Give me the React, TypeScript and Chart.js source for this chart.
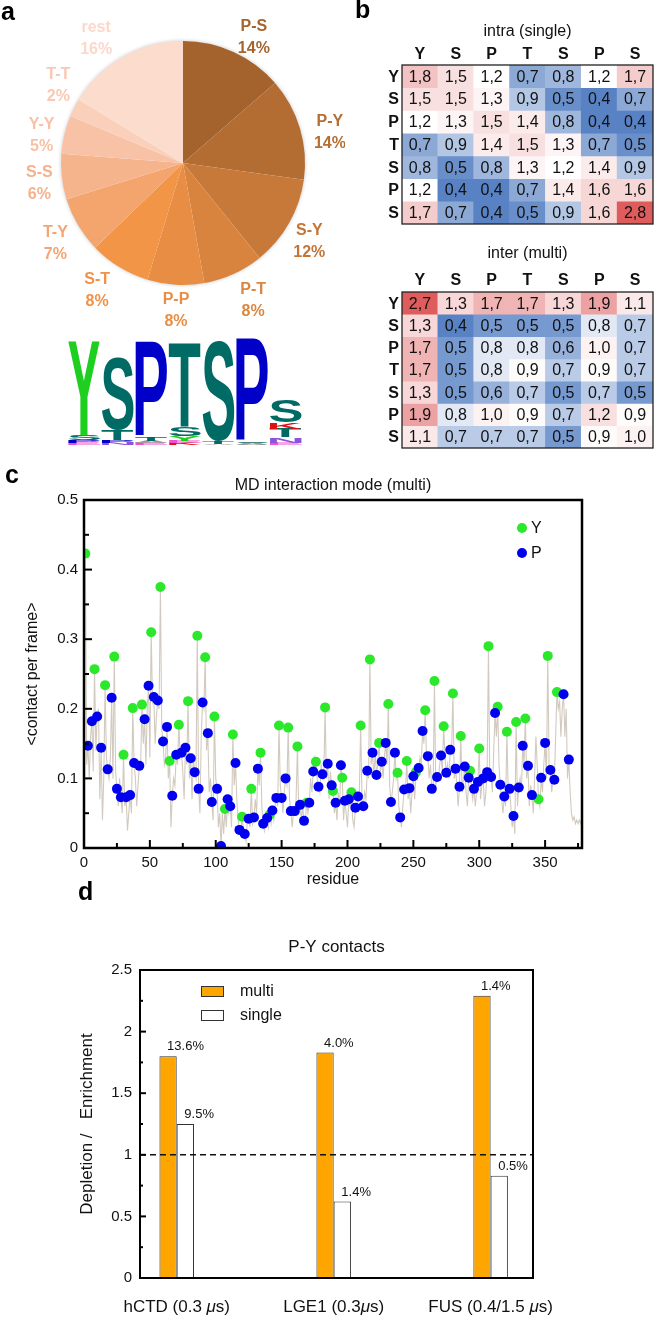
import React, { useEffect, useRef } from 'react';
import { Chart, registerables } from 'chart.js';
Chart.register(...registerables);

const FONT = "'Liberation Sans', Arial, Helvetica, sans-serif";
const F = (size: number, bold = false, italic = false) => `${italic ? 'italic ' : ''}${bold ? 'bold ' : ''}${size}px ${FONT}`;

// ---------- Panel a : pie ----------
const pieLabels = ['P-S', 'P-Y', 'S-Y', 'P-T', 'P-P', 'S-T', 'T-Y', 'S-S', 'Y-Y', 'T-T', 'rest'];
const pieValues = [13.6, 13.6, 12.0, 8.0, 7.5, 8.1, 7.4, 6.0, 5.1, 2.4, 16.3];
const piePercentLabels = ['14%', '14%', '12%', '8%', '8%', '8%', '7%', '6%', '5%', '2%', '16%'];
const pieColors = ['#a4622c', '#b36c32', '#c77939', '#d8843f', '#e78d44', '#f29547', '#f4a56e', '#f6b48d', '#f8c2a6', '#fad0bb', '#fcdccd'];
const pieTextColors = ['#a6642e', '#b56f33', '#c47536', '#d98741', '#e88f46', '#f0924a', '#f3a575', '#f5b18e', '#f8c0a5', '#fac8b2', '#fcd8ca'];
// label placement layout (degrees added to slice mid-angle, px beyond the rim)
const pieLabelAngleNudge = [5, 5, 2.5, -2.6, -0.7, 2.4, -1.7, -1.5, -2.5, 5, -5.5];
const pieLabelGap = [22, 28, 27, 32, 26, 32, 29, 23, 22, 25, 30];

// sequence logo: columns bottom -> top, [letter, bits]
const logoColumns: [string, number][][] = [
  [['E', 0.08], ['P', 0.12], ['S', 0.2], ['Y', 3.83]],
  [['N', 0.08], ['P', 0.12], ['T', 0.4], ['S', 3.0]],
  [['E', 0.08], ['A', 0.08], ['T', 0.18], ['P', 3.9]],
  [['K', 0.08], ['E', 0.08], ['Y', 0.22], ['S', 0.35], ['T', 3.45]],
  [['A', 0.06], ['T', 0.08], ['S', 4.1]],
  [['A', 0.08], ['S', 0.06], ['P', 4.2]],
  [['E', 0.1], ['N', 0.22], ['T', 0.35], ['K', 0.25], ['S', 0.9]],
];
const logoColor: Record<string, string> = { Y: '#1fcf1f', S: '#006b64', T: '#006b64', P: '#0000c8', K: '#dd1111', N: '#8a55d8', E: '#f050d0', A: '#9a9a9a' };

// ---------- Panel b : heatmaps ----------
const heatHeaders = ['Y', 'S', 'P', 'T', 'S', 'P', 'S'];
const intraMatrix = [
  [1.8, 1.5, 1.2, 0.7, 0.8, 1.2, 1.7],
  [1.5, 1.5, 1.3, 0.9, 0.5, 0.4, 0.7],
  [1.2, 1.3, 1.5, 1.4, 0.8, 0.4, 0.4],
  [0.7, 0.9, 1.4, 1.5, 1.3, 0.7, 0.5],
  [0.8, 0.5, 0.8, 1.3, 1.2, 1.4, 0.9],
  [1.2, 0.4, 0.4, 0.7, 1.4, 1.6, 1.6],
  [1.7, 0.7, 0.4, 0.5, 0.9, 1.6, 2.8],
];
const interMatrix = [
  [2.7, 1.3, 1.7, 1.7, 1.3, 1.9, 1.1],
  [1.3, 0.4, 0.5, 0.5, 0.5, 0.8, 0.7],
  [1.7, 0.5, 0.8, 0.8, 0.6, 1.0, 0.7],
  [1.7, 0.5, 0.8, 0.9, 0.7, 0.9, 0.7],
  [1.3, 0.5, 0.6, 0.7, 0.5, 0.7, 0.5],
  [1.9, 0.8, 1.0, 0.9, 0.7, 1.2, 0.9],
  [1.1, 0.7, 0.7, 0.7, 0.5, 0.9, 1.0],
];

// ---------- Panel c : contacts per residue ----------
const yPoints: [number, number][] = [
  [1, 0.423], [8, 0.257], [16, 0.234], [23, 0.275], [30, 0.134], [37, 0.201], [44, 0.206], [51, 0.31], [58, 0.375], [65, 0.125],
  [72, 0.177], [79, 0.211], [86, 0.305], [92, 0.274], [99, 0.189], [107, 0.056], [113, 0.163], [120, 0.045], [127, 0.085], [134, 0.137],
  [141, 0.048], [148, 0.176], [155, 0.173], [162, 0.146], [169, 0.065], [176, 0.124], [183, 0.202], [189, 0.082], [196, 0.101], [203, 0.08],
  [210, 0.176], [217, 0.271], [224, 0.151], [231, 0.207], [238, 0.108], [245, 0.125], [252, 0.109], [259, 0.198], [266, 0.24], [273, 0.175],
  [280, 0.222], [286, 0.161], [293, 0.111], [300, 0.143], [307, 0.29], [314, 0.203], [321, 0.167], [328, 0.181], [335, 0.186], [345, 0.07],
  [352, 0.276], [359, 0.224],
];
const pPoints: [number, number][] = [
  [3, 0.147], [6, 0.182], [10, 0.189], [13, 0.144], [18, 0.113], [21, 0.216], [25, 0.085], [28, 0.073], [32, 0.073], [35, 0.076],
  [38, 0.122], [42, 0.118], [46, 0.185], [49, 0.233], [53, 0.217], [56, 0.212], [60, 0.153], [63, 0.174], [67, 0.075], [70, 0.134],
  [74, 0.137], [77, 0.144], [81, 0.129], [84, 0.109], [87, 0.085], [90, 0.209], [94, 0.165], [97, 0.066], [101, 0.085], [104, 0.003],
  [109, 0.07], [111, 0.06], [115, 0.122], [118, 0.026], [122, 0.02], [125, 0.042], [129, 0.044], [132, 0.114], [136, 0.035], [139, 0.043],
  [143, 0.054], [146, 0.072], [150, 0.072], [153, 0.1], [157, 0.053], [160, 0.053], [164, 0.062], [167, 0.039], [171, 0.065], [174, 0.11],
  [178, 0.088], [181, 0.106], [185, 0.121], [188, 0.09], [191, 0.065], [195, 0.119], [198, 0.068], [201, 0.07], [206, 0.058], [208, 0.074],
  [212, 0.06], [215, 0.111], [219, 0.137], [222, 0.105], [226, 0.124], [229, 0.151], [233, 0.066], [236, 0.137], [240, 0.044], [243, 0.084],
  [247, 0.086], [250, 0.103], [254, 0.115], [257, 0.168], [261, 0.132], [264, 0.085], [268, 0.102], [271, 0.133], [275, 0.108], [278, 0.141],
  [282, 0.114], [285, 0.088], [289, 0.117], [292, 0.101], [296, 0.085], [299, 0.095], [303, 0.1], [306, 0.109], [309, 0.102], [312, 0.194],
  [316, 0.091], [319, 0.074], [323, 0.085], [326, 0.046], [330, 0.087], [333, 0.147], [337, 0.118], [340, 0.076], [347, 0.101], [350, 0.151],
  [354, 0.112], [357, 0.098], [364, 0.221], [368, 0.127],
];
const otherPoints: [number, number][] = [
  [2, 0.12], [4, 0.1], [5, 0.16], [7, 0.11], [9, 0.14], [11, 0.2], [12, 0.07], [14, 0.04], [15, 0.1], [17, 0.13], [19, 0.1], [20, 0.13],
  [22, 0.1], [24, 0.11], [26, 0.06], [27, 0.1], [29, 0.05], [31, 0.06], [33, 0.025], [34, 0.05], [36, 0.05], [39, 0.1], [40, 0.06], [41, 0.09],
  [43, 0.12], [45, 0.15], [47, 0.12], [48, 0.2], [50, 0.13], [52, 0.21], [54, 0.15], [55, 0.19], [57, 0.2], [59, 0.17], [61, 0.12], [62, 0.13],
  [64, 0.1], [66, 0.03], [68, 0.1], [69, 0.09], [71, 0.12], [73, 0.13], [75, 0.11], [76, 0.07], [78, 0.12], [80, 0.1], [82, 0.07], [83, 0.13],
  [85, 0.1], [88, 0.05], [89, 0.16], [91, 0.2], [93, 0.14], [95, 0.08], [96, 0.1], [98, 0.04], [100, 0.1], [102, 0.03], [103, 0.05], [105, 0.05],
  [106, 0.02], [108, 0.03], [110, 0.05], [112, 0.03], [114, 0.09], [116, 0.07], [117, 0.04], [119, 0.02], [121, 0.025], [123, 0.01], [124, 0.04],
  [126, 0.03], [128, 0.035], [130, 0.07], [131, 0.05], [133, 0.09], [135, 0.06], [137, 0.025], [138, 0.04], [140, 0.03], [142, 0.035], [144, 0.04],
  [145, 0.06], [147, 0.06], [149, 0.09], [151, 0.05], [152, 0.08], [154, 0.09], [156, 0.07], [158, 0.03], [159, 0.05], [161, 0.07], [163, 0.05],
  [165, 0.04], [166, 0.06], [168, 0.04], [170, 0.05], [172, 0.1], [173, 0.08], [175, 0.13], [177, 0.1], [179, 0.08], [180, 0.12], [182, 0.1],
  [184, 0.1], [186, 0.07], [187, 0.11], [190, 0.05], [192, 0.04], [193, 0.08], [194, 0.06], [197, 0.04], [199, 0.05], [200, 0.03], [202, 0.06],
  [204, 0.04], [205, 0.03], [207, 0.06], [209, 0.08], [211, 0.07], [213, 0.08], [214, 0.07], [216, 0.1], [218, 0.12], [220, 0.1], [221, 0.14],
  [223, 0.12], [225, 0.11], [227, 0.1], [228, 0.13], [230, 0.12], [232, 0.09], [234, 0.08], [235, 0.1], [237, 0.1], [239, 0.06], [241, 0.03],
  [242, 0.06], [244, 0.08], [246, 0.07], [248, 0.05], [249, 0.08], [251, 0.07], [253, 0.1], [255, 0.13], [256, 0.12], [258, 0.15], [260, 0.13],
  [262, 0.1], [263, 0.12], [265, 0.08], [267, 0.09], [269, 0.1], [270, 0.12], [272, 0.11], [274, 0.13], [276, 0.12], [277, 0.1], [279, 0.14],
  [281, 0.1], [283, 0.09], [284, 0.06], [287, 0.08], [288, 0.1], [290, 0.08], [291, 0.06], [294, 0.09], [295, 0.07], [297, 0.06], [298, 0.08],
  [301, 0.07], [302, 0.09], [304, 0.06], [305, 0.08], [308, 0.1], [310, 0.08], [311, 0.14], [313, 0.16], [315, 0.12], [317, 0.07], [318, 0.05],
  [320, 0.06], [322, 0.08], [324, 0.06], [325, 0.03], [327, 0.02], [329, 0.06], [331, 0.1], [332, 0.08], [334, 0.12], [336, 0.1], [338, 0.06],
  [339, 0.09], [341, 0.05], [342, 0.1], [343, 0.16], [344, 0.12], [346, 0.06], [348, 0.08], [349, 0.12], [351, 0.1], [353, 0.12], [355, 0.08],
  [356, 0.1], [358, 0.16], [360, 0.2], [361, 0.21], [362, 0.16], [363, 0.2], [365, 0.16], [366, 0.2], [367, 0.1], [369, 0.08], [370, 0.05],
  [371, 0.04], [372, 0.045], [373, 0.035], [374, 0.04], [375, 0.035], [376, 0.04], [377, 0.035], [378, 0.045],
];
const cXMajor = [0, 50, 100, 150, 200, 250, 300, 350];
const cXMinor = [25, 75, 125, 175, 225, 275, 325, 375];
const cYMajor = [0, 0.1, 0.2, 0.3, 0.4, 0.5];
const cYMinor = [0.05, 0.15, 0.25, 0.35, 0.45];

// ---------- Panel d : P-Y contacts ----------
const dCategories = ['hCTD (0.3 μs)', 'LGE1 (0.3μs)', 'FUS (0.4/1.5 μs)'];
const dMulti = [1.8, 1.83, 2.29];
const dSingle = [1.25, 0.62, 0.83];
const dMultiPct = ['13.6%', '4.0%', '1.4%'];
const dSinglePct = ['9.5%', '1.4%', '0.5%'];
const dYMajor = [0, 0.5, 1, 1.5, 2, 2.5];
const dYMinor = [0.25, 0.75, 1.25, 1.75, 2.25];

// ---------- helpers ----------
function seg(ctx: CanvasRenderingContext2D, x1: number, y1: number, x2: number, y2: number) {
  ctx.beginPath(); ctx.moveTo(x1, y1); ctx.lineTo(x2, y2); ctx.stroke();
}
function mix(a: number[], b: number[], t: number) {
  return `rgb(${a.map((v, i) => Math.round(v + (b[i] - v) * t)).join(',')})`;
}
function heatColor(v: number, lo: number, mid: number, hi: number) {
  const white = [255, 255, 255], blue = [88, 130, 196], red = [222, 92, 92];
  if (v <= mid) return mix(white, blue, Math.pow(Math.min(1, (mid - v) / (mid - lo)), 0.8));
  return mix(white, red, Math.min(1, (v - mid) / (hi - mid)));
}
function drawGlyph(ctx: CanvasRenderingContext2D, ch: string, x: number, yBottom: number, w: number, h: number, color: string) {
  if (h < 0.4) return;
  ctx.save();
  ctx.font = F(100, true);
  const m = ctx.measureText(ch);
  const gw = m.actualBoundingBoxLeft + m.actualBoundingBoxRight;
  const gh = m.actualBoundingBoxAscent + m.actualBoundingBoxDescent;
  ctx.translate(x, yBottom - h);
  ctx.scale(w / gw, h / gh);
  ctx.fillStyle = color;
  ctx.textAlign = 'left';
  ctx.textBaseline = 'alphabetic';
  ctx.fillText(ch, m.actualBoundingBoxLeft, m.actualBoundingBoxAscent);
  ctx.restore();
}
function panelLetter(ctx: CanvasRenderingContext2D, t: string, x: number, y: number) {
  ctx.save();
  ctx.fillStyle = '#000'; ctx.font = F(25, true); ctx.textAlign = 'left'; ctx.textBaseline = 'alphabetic';
  ctx.fillText(t, x, y);
  ctx.restore();
}

// ---------- configs ----------
function pieConfig(): any {
  const plugin = {
    id: 'pieDeco',
    beforeDatasetsDraw(chart: any) {
      const arc = chart.getDatasetMeta(0).data[0];
      if (!arc) return;
      const { ctx } = chart;
      ctx.save();
      ctx.shadowColor = 'rgba(0,0,0,0.28)'; ctx.shadowBlur = 4;
      ctx.fillStyle = '#fff';
      ctx.beginPath(); ctx.arc(arc.x, arc.y, arc.outerRadius - 0.5, 0, Math.PI * 2); ctx.fill();
      ctx.restore();
    },
    afterDatasetsDraw(chart: any) {
      const { ctx } = chart;
      const meta = chart.getDatasetMeta(0);
      ctx.save();
      ctx.font = F(16, true); ctx.textAlign = 'center'; ctx.textBaseline = 'middle';
      meta.data.forEach((arc: any, i: number) => {
        const mid = (arc.startAngle + arc.endAngle) / 2 + (pieLabelAngleNudge[i] * Math.PI) / 180;
        const r = arc.outerRadius + pieLabelGap[i];
        const cx = arc.x + Math.cos(mid) * r, cy = arc.y + Math.sin(mid) * r;
        ctx.fillStyle = pieTextColors[i];
        ctx.fillText(pieLabels[i], cx, cy - 11);
        ctx.fillText(piePercentLabels[i], cx, cy + 11);
      });
      ctx.restore();
      // logo
      const base = 445, pxPerBit = 24.3, x0 = 68, pitch = 33.6, w = 32;
      logoColumns.forEach((col, ci) => {
        let yb = base;
        col.forEach(([ch, bits]) => {
          const h = bits * pxPerBit;
          drawGlyph(ctx, ch, x0 + ci * pitch, yb, w, h, logoColor[ch] || '#888');
          yb -= h;
        });
      });
      panelLetter(ctx, 'a', 1, 20);
    },
  };
  return {
    type: 'pie',
    data: { labels: pieLabels, datasets: [{ data: pieValues, backgroundColor: pieColors, borderWidth: 0, hoverOffset: 0 }] },
    options: {
      responsive: false, animation: false, devicePixelRatio: 1,
      layout: { padding: { left: 61, right: 40, top: 41, bottom: 175 } },
      plugins: { legend: { display: false }, tooltip: { enabled: false } },
    },
    plugins: [plugin],
  };
}

function heatConfig(matrix: number[][], title: string, lo: number, mid: number, hi: number, pad: any, titleOff: number, headOff: number, letter: boolean): any {
  const plugin = {
    id: 'heatDeco',
    afterDatasetsDraw(chart: any) {
      const { ctx, chartArea: a, scales } = chart;
      ctx.save();
      ctx.fillStyle = '#111'; ctx.textAlign = 'center'; ctx.textBaseline = 'middle';
      ctx.font = F(16);
      matrix.forEach((row, r) => {
        const meta = chart.getDatasetMeta(r);
        row.forEach((v, c) => {
          const el = meta.data[c];
          ctx.fillText(v.toFixed(1).replace('.', ','), el.x, (el.y + el.base) / 2 + 1);
        });
      });
      ctx.strokeStyle = '#222'; ctx.lineWidth = 1.3;
      ctx.strokeRect(a.left, a.top, a.right - a.left, a.bottom - a.top);
      ctx.font = F(16, true);
      heatHeaders.forEach((h, c) => ctx.fillText(h, scales.x.getPixelForValue(c), a.top - headOff));
      ctx.textAlign = 'right';
      heatHeaders.forEach((h, r) => ctx.fillText(h, a.left - 3, scales.y.getPixelForValue(r + 0.5) + 1));
      ctx.textAlign = 'center'; ctx.font = F(16);
      ctx.fillText(title, (a.left + a.right) / 2, a.top - titleOff);
      ctx.restore();
      if (letter) panelLetter(ctx, 'b', 25, 18);
    },
  };
  return {
    type: 'bar',
    data: {
      labels: heatHeaders.map((_, i) => String(i)),
      datasets: matrix.map((row, r) => ({
        data: row.map(() => [r, r + 1]),
        backgroundColor: row.map((v) => heatColor(v, lo, mid, hi)),
        borderWidth: 0, barPercentage: 1, categoryPercentage: 1, grouped: false,
      })),
    },
    options: {
      responsive: false, animation: false, devicePixelRatio: 1,
      layout: { padding: pad },
      plugins: { legend: { display: false }, tooltip: { enabled: false } },
      scales: {
        x: { display: false },
        y: { display: false, min: 0, max: 7, reverse: true },
      },
    },
    plugins: [plugin],
  };
}

function contactConfig(): any {
  const grey = [...yPoints, ...pPoints, ...otherPoints].sort((a, b) => a[0] - b[0]).map(([x, y]) => ({ x, y }));
  const plugin = {
    id: 'cDeco',
    afterDatasetsDraw(chart: any) {
      const { ctx, chartArea: a, scales: { x, y } } = chart;
      ctx.save();
      ctx.strokeStyle = '#000'; ctx.lineWidth = 2;
      cXMajor.forEach((v) => { const p = x.getPixelForValue(v); seg(ctx, p, a.bottom, p, a.bottom - 8); });
      cXMinor.forEach((v) => { const p = x.getPixelForValue(v); seg(ctx, p, a.bottom, p, a.bottom - 5); });
      cYMajor.forEach((v) => { const p = y.getPixelForValue(v); seg(ctx, a.left, p, a.left + 8, p); });
      cYMinor.forEach((v) => { const p = y.getPixelForValue(v); seg(ctx, a.left, p, a.left + 5, p); });
      ctx.lineWidth = 2.5;
      ctx.strokeRect(a.left, a.top, a.right - a.left, a.bottom - a.top);
      ctx.fillStyle = '#111'; ctx.font = F(15); ctx.textAlign = 'center'; ctx.textBaseline = 'middle';
      cXMajor.forEach((v) => ctx.fillText(String(v), x.getPixelForValue(v), a.bottom + 15));
      ctx.textAlign = 'right';
      cYMajor.forEach((v) => ctx.fillText(String(Math.round(v * 10) / 10), a.left - 6, y.getPixelForValue(v)));
      ctx.textAlign = 'center'; ctx.font = F(16);
      ctx.fillText('MD interaction mode (multi)', (a.left + a.right) / 2, a.top - 14);
      ctx.fillText('residue', (a.left + a.right) / 2, a.bottom + 32);
      ctx.save();
      ctx.translate(a.left - 51, (a.top + a.bottom) / 2);
      ctx.rotate(-Math.PI / 2);
      ctx.fillText('<contact per frame>', 0, 0);
      ctx.restore();
      [0, 1].forEach((i) => {
        const ds = chart.data.datasets[i];
        const lx = a.right - 60, ly = a.top + 28 + i * 25;
        ctx.fillStyle = ds.backgroundColor;
        ctx.beginPath(); ctx.arc(lx, ly, 5, 0, Math.PI * 2); ctx.fill();
        ctx.fillStyle = '#111'; ctx.textAlign = 'left'; ctx.font = F(16);
        ctx.fillText(ds.label, lx + 9, ly + 1);
      });
      ctx.restore();
      panelLetter(ctx, 'c', 5, 28);
    },
  };
  return {
    type: 'scatter',
    data: {
      datasets: [
        { label: 'Y', data: yPoints.map(([x, y]) => ({ x, y })), backgroundColor: '#2be82b', borderWidth: 0, pointRadius: 5, order: 1 },
        { label: 'P', data: pPoints.map(([x, y]) => ({ x, y })), backgroundColor: '#0000ee', borderWidth: 0, pointRadius: 5, order: 0 },
        { type: 'line', label: 'all', data: grey, borderColor: '#d2cabf', borderWidth: 1.1, pointRadius: 0, tension: 0, order: 2 },
      ],
    },
    options: {
      responsive: false, animation: false, devicePixelRatio: 1,
      layout: { padding: { left: 84, right: 74, top: 45, bottom: 47 } },
      plugins: { legend: { display: false }, tooltip: { enabled: false } },
      scales: {
        x: { type: 'linear', display: false, min: 0, max: 378 },
        y: { type: 'linear', display: false, min: 0, max: 0.5 },
      },
    },
    plugins: [plugin],
  };
}

function pyConfig(): any {
  const plugin = {
    id: 'dDeco',
    afterDatasetsDraw(chart: any) {
      const { ctx, chartArea: a, scales: { x, y } } = chart;
      ctx.save();
      ctx.strokeStyle = '#111'; ctx.lineWidth = 1.4; ctx.setLineDash([6, 4]);
      const p1 = y.getPixelForValue(1);
      seg(ctx, a.left, p1, a.right, p1);
      ctx.setLineDash([]);
      ctx.strokeStyle = '#000'; ctx.lineWidth = 2;
      dYMajor.forEach((v) => { const p = y.getPixelForValue(v); seg(ctx, a.left, p, a.left + 6, p); });
      dYMinor.forEach((v) => { const p = y.getPixelForValue(v); seg(ctx, a.left, p, a.left + 3, p); });
      ctx.strokeRect(a.left, a.top, a.right - a.left, a.bottom - a.top);
      ctx.fillStyle = '#111'; ctx.font = F(15); ctx.textAlign = 'right'; ctx.textBaseline = 'middle';
      dYMajor.forEach((v) => ctx.fillText(String(v), a.left - 8, y.getPixelForValue(v)));
      ctx.textAlign = 'left';
      dCategories.forEach((lab, i) => {
        const parts = lab.split('μ');
        ctx.font = F(17);
        const widths = parts.map((p) => ctx.measureText(p).width);
        ctx.font = F(17, false, true);
        const mw = ctx.measureText('μ').width;
        const total = widths.reduce((s, w) => s + w, 0) + mw * (parts.length - 1);
        let cx = x.getPixelForValue(i + 1) - total / 2;
        const cy = a.bottom + 29;
        parts.forEach((p, k) => {
          ctx.font = F(17);
          ctx.fillText(p, cx, cy); cx += widths[k];
          if (k < parts.length - 1) { ctx.font = F(17, false, true); ctx.fillText('μ', cx, cy); cx += mw; }
        });
      });
      ctx.font = F(13); ctx.textBaseline = 'bottom';
      [dMultiPct, dSinglePct].forEach((labs, di) => {
        chart.getDatasetMeta(di).data.forEach((el: any, i: number) => ctx.fillText(labs[i], el.x - 1, el.y - 3));
      });
      ctx.textAlign = 'center'; ctx.textBaseline = 'middle'; ctx.font = F(17);
      ctx.fillText('P-Y contacts', (a.left + a.right) / 2, a.top - 23);
      ctx.save();
      ctx.translate(a.left - 53, (a.top + a.bottom) / 2);
      ctx.rotate(-Math.PI / 2);
      ctx.fillText('Depletion /   Enrichment', 0, 0);
      ctx.restore();
      chart.data.datasets.forEach((ds: any, i: number) => {
        const lx = a.left + 61, ly = a.top + 16 + i * 24;
        ctx.fillStyle = ds.backgroundColor; ctx.strokeStyle = '#333'; ctx.lineWidth = 1;
        ctx.fillRect(lx, ly, 23, 11); ctx.strokeRect(lx + 0.5, ly + 0.5, 22, 10);
        ctx.fillStyle = '#111'; ctx.textAlign = 'left'; ctx.font = F(16);
        ctx.fillText(ds.label, lx + 39, ly + 6);
      });
      ctx.restore();
      panelLetter(ctx, 'd', 78, 20);
    },
  };
  const common = { borderColor: '#333', borderWidth: 1, categoryPercentage: 0.22, barPercentage: 1 };
  return {
    type: 'bar',
    data: {
      datasets: [
        { label: 'multi', data: dMulti.map((v, i) => ({ x: i + 1, y: v })), backgroundColor: '#ffa500', ...common },
        { label: 'single', data: dSingle.map((v, i) => ({ x: i + 1, y: v })), backgroundColor: '#ffffff', ...common },
      ],
    },
    options: {
      responsive: false, animation: false, devicePixelRatio: 1,
      layout: { padding: { left: 140, right: 123, top: 90, bottom: 44 } },
      plugins: { legend: { display: false }, tooltip: { enabled: false } },
      scales: {
        x: {
          type: 'linear', display: false, min: 0.766, max: 3.27, offset: false,
          afterBuildTicks: (s: any) => { s.ticks = [1, 2, 3].map((v) => ({ value: v })); },
        },
        y: { type: 'linear', display: false, min: 0, max: 2.5 },
      },
    },
    plugins: [plugin],
  };
}

function ChartCanvas({ left, top, width, height, make }: { left: number; top: number; width: number; height: number; make: () => any }) {
  const ref = useRef<HTMLCanvasElement>(null);
  useEffect(() => {
    const chart = new Chart(ref.current as HTMLCanvasElement, make());
    return () => chart.destroy();
  }, []);
  return (
    <div style={{ position: 'absolute', left, top, width, height }}>
      <canvas ref={ref} width={width} height={height} style={{ display: 'block', width, height }} />
    </div>
  );
}

export default function App() {
  return (
    <div style={{ position: 'absolute', left: 0, top: 0, width: 656, height: 1322, background: '#fff', overflow: 'hidden' }}>
      <ChartCanvas left={0} top={0} width={345} height={460} make={pieConfig} />
      <ChartCanvas left={330} top={0} width={326} height={240}
        make={() => heatConfig(intraMatrix, 'intra (single)', 0.4, 1.2, 2.8, { left: 72, right: 3, top: 65, bottom: 16 }, 33, 10, true)} />
      <ChartCanvas left={330} top={240} width={326} height={220}
        make={() => heatConfig(interMatrix, 'inter (multi)', 0.4, 0.85, 2.7, { left: 72, right: 3, top: 52, bottom: 12 }, 38, 11, false)} />
      <ChartCanvas left={0} top={455} width={656} height={440} make={contactConfig} />
      <ChartCanvas left={0} top={880} width={656} height={442} make={pyConfig} />
    </div>
  );
}
